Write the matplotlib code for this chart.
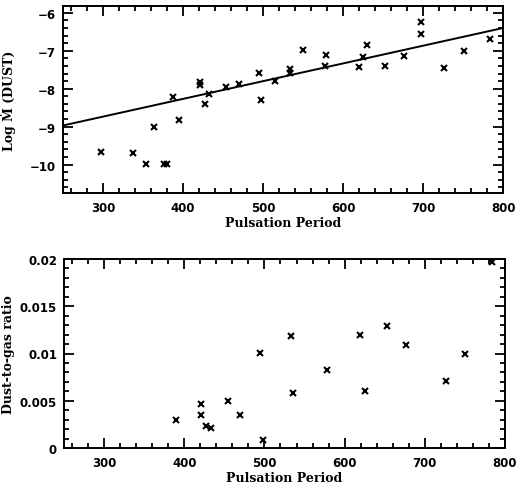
import matplotlib
matplotlib.use("Agg")
import matplotlib.pyplot as plt
from matplotlib.ticker import MultipleLocator, FixedLocator, FuncFormatter
import numpy as np

# ---- data: top panel (log Mdot dust vs period) ----
period_top = [297, 338, 353.5, 376.5, 380, 364, 388, 394.5, 420.7, 420.7, 427.5, 432.8,
              453.7, 469.6, 494.7, 497.7, 514.4, 534, 534, 549.9, 579.2, 577.4,
              620, 630, 625, 652.6, 676, 697, 697, 726.2, 750.9, 783.8]
logmdot = [-9.67, -9.69, -9.98, -9.98, -9.98, -9.0, -8.23, -8.82, -7.83, -7.90, -8.40, -8.14,
           -7.96, -7.88, -7.58, -8.31, -7.81, -7.47, -7.58, -6.97, -7.10, -7.39,
           -7.42, -6.84, -7.17, -7.41, -7.14, -6.24, -6.57, -7.46, -7.01, -6.70]
fit_period = [250, 800]
fit_logmdot = [-8.97, -6.40]

# ---- data: bottom panel (dust-to-gas ratio vs period) ----
period_bot = [390, 421, 421, 427.5, 433.5, 454, 470, 494.5, 498, 533.5, 535.5,
              577.5, 619.5, 626, 652.7, 676, 726, 750.5, 783.5]
dust_gas = [0.0030, 0.00466, 0.00349, 0.0023, 0.00215, 0.00497, 0.00349, 0.01002, 0.00088,
            0.01188, 0.00582, 0.00829, 0.01196, 0.00607, 0.01294, 0.01093, 0.00705,
            0.00995, 0.01965]

top_yticks = [-6, -7, -8, -9, -10]
bot_yticks = [0, 0.005, 0.01, 0.015, 0.02]
bot_yticklabels = ["0", "0.005", "0.01", "0.015", "0.02"]
xticks = [300, 400, 500, 600, 700, 800]

fig = plt.figure(figsize=(5.17, 4.89), dpi=100)
ax1 = fig.add_axes([63/517, 1-194/489, 440/517, 187/489])
ax2 = fig.add_axes([64/517, 1-449/489, 441/517, 189/489])

tickfont = dict(family="DejaVu Sans", weight="bold", size=8.5)
labfont = dict(family="DejaVu Serif", weight="bold", size=9)

for ax in (ax1, ax2):
    ax.set_xlim(250, 800)
    ax.xaxis.set_major_locator(FixedLocator(xticks))
    ax.xaxis.set_minor_locator(MultipleLocator(20))
    ax.tick_params(which="both", direction="in", top=True, right=True, width=1.3, color="black")
    ax.tick_params(which="major", length=7)
    ax.tick_params(which="minor", length=3.5)
    ax.tick_params(axis="x", which="major", pad=6)
    ax.tick_params(axis="y", which="major", pad=5)
    for s in ax.spines.values():
        s.set_linewidth(1.4)
    ax.set_xlabel("Pulsation Period", fontdict=labfont, labelpad=1)

ax1.plot(period_top, logmdot, linestyle="none", marker="x", color="black", markersize=5, mew=1.5)
ax1.plot(fit_period, fit_logmdot, color="black", linewidth=1.4)
ax1.set_ylim(-10.75, -5.82)
ax1.yaxis.set_major_locator(FixedLocator(top_yticks))
ax1.yaxis.set_minor_locator(MultipleLocator(0.2))
ax1.yaxis.set_major_formatter(FuncFormatter(lambda v, p: "%d" % v if v >= 0 else "\u2212%d" % abs(v)))
ax1.set_ylabel("Log \u1E40 (DUST)", fontdict=labfont)
ax1.yaxis.set_label_coords((16 - 63) / 440, 0.5)

ax2.plot(period_bot, dust_gas, linestyle="none", marker="x", color="black", markersize=5, mew=1.5)
ax2.set_ylim(0, 0.02)
ax2.yaxis.set_major_locator(FixedLocator(bot_yticks))
ax2.yaxis.set_minor_locator(MultipleLocator(0.001))
ax2.set_yticklabels(bot_yticklabels)
ax2.set_ylabel("Dust-to-gas ratio", fontdict=labfont)
ax2.yaxis.set_label_coords((15 - 64) / 441, 0.5)

for ax in (ax1, ax2):
    for lab in ax.get_xticklabels() + ax.get_yticklabels():
        lab.set_fontfamily(tickfont["family"])
        lab.set_fontweight("bold")
        lab.set_fontsize(tickfont["size"])

fig.savefig("out.png", dpi=100)
